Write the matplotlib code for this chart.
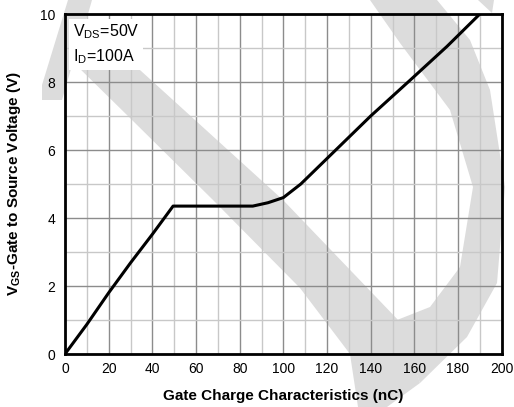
import matplotlib
matplotlib.use("Agg")
import matplotlib.pyplot as plt
from matplotlib.patches import Polygon
from matplotlib.ticker import MultipleLocator

plt.rcParams['font.family'] = ['Liberation Sans', 'DejaVu Sans']
plt.rcParams['mathtext.fontset'] = 'custom'
plt.rcParams['mathtext.rm'] = 'Liberation Sans'
plt.rcParams['mathtext.bf'] = 'Liberation Sans:bold'

# Data
gate_charge = [0, 10, 20, 30, 40, 49.5, 60, 70, 86, 93, 100, 104, 108, 120, 140, 158, 175, 190]
vgs = [0, 0.87, 1.8, 2.68, 3.52, 4.35, 4.35, 4.35, 4.35, 4.45, 4.6, 4.8, 5.0, 5.75, 7.0, 8.05, 9.05, 10.0]
x_ticks = [0, 20, 40, 60, 80, 100, 120, 140, 160, 180, 200]
y_ticks = [0, 2, 4, 6, 8, 10]

W, H = 514, 407
fig = plt.figure(figsize=(W / 100, H / 100), dpi=100)
fig.patch.set_facecolor('white')

def px(points):
    return [(x / W, 1 - y / H) for x, y in points]

wm = '#dcdcdc'
stem = [(68, 0), (92, 0), (86, 21), (173, 100), (283, 200), (400, 322), (420, 383), (387, 407),
        (358, 407), (350, 354), (300, 288), (213, 200), (130, 118), (73, 62), (62, 100),
        (42, 100), (42, 85)]
arc = [(437, 0), (470, 40), (490, 90), (505, 187), (497, 283), (467, 337), (420, 383),
       (397, 320), (430, 307), (460, 267), (473, 187), (450, 110), (400, 43), (370, 0)]
wedge = [(478, 0), (494, 0), (492, 13)]
for poly in (stem, arc, wedge):
    fig.patches.append(Polygon(px(poly), closed=True, transform=fig.transFigure,
                               facecolor=wm, edgecolor='none', zorder=-5))

ax = fig.add_axes([65 / W, 1 - 354 / H, (501.7 - 65) / W, (354 - 14) / H])
ax.set_zorder(2)
ax.set_facecolor('none')
ax.set_xlim(0, 200)
ax.set_ylim(0, 10)
ax.set_xticks(x_ticks)
ax.set_yticks(y_ticks)
ax.xaxis.set_minor_locator(MultipleLocator(10))
ax.yaxis.set_minor_locator(MultipleLocator(1))
ax.grid(which='major', color='#8c8c8c', linewidth=1.0)
ax.grid(which='minor', color='#c8c8c8', linewidth=1.0)
ax.set_axisbelow(True)
ax.tick_params(which='both', length=0, labelsize=10)
ax.tick_params(axis='x', pad=6)
ax.tick_params(axis='y', pad=7)
for s in ax.spines.values():
    s.set_linewidth(2)
    s.set_color('black')

ax.plot(gate_charge, vgs, color='black', linewidth=2.2, solid_capstyle='round', zorder=3)

ax.text(0.018, 0.975, 'V$_{\\mathregular{DS}}$=50V\nI$_{\\mathregular{D}}$=100A', transform=ax.transAxes,
        fontsize=11.5, va='top', ha='left', linespacing=1.45,
        bbox=dict(facecolor='white', edgecolor='none', pad=2.5), zorder=4)

ax.set_xlabel('Gate Charge Characteristics (nC)', fontsize=11, fontweight='bold', labelpad=9)
ax.set_ylabel('V$_{\\mathbf{GS}}$-Gate to Source Voltage (V)', fontsize=11, fontweight='bold', labelpad=12)

fig.savefig('out.png', dpi=100)
